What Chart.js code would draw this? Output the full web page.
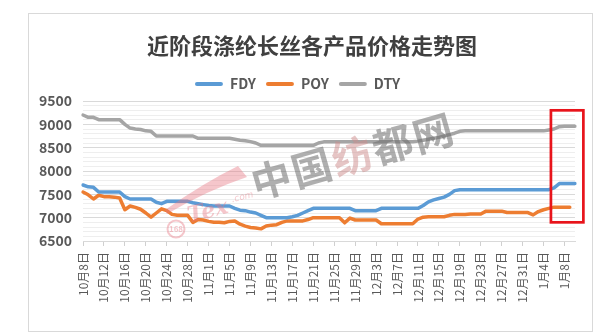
<!DOCTYPE html>
<html>
<head>
<meta charset="utf-8">
<script src="https://cdn.jsdelivr.net/npm/chart.js@4.4.0/dist/chart.umd.min.js"></script>
<style>
  html, body { margin: 0; padding: 0; background: #fff; }
  #wrap { position: relative; width: 612px; height: 332px; overflow: hidden; }
  .frame { position: absolute; left: 28px; top: 13px; width: 563px; height: 317px; border: 1px solid #d9d9d9; }
  .plot { position: absolute; left: 0; top: 0; width: 612px; height: 332px; }
</style>
</head>
<body>
<div id="wrap">
  <div class="frame"></div>
  <div class="plot"><canvas id="priceChart"></canvas></div>
</div>
<script>
// daily dates, 10/8 .. 1/10
const dates = [
  '10月8日','10月9日','10月10日','10月11日','10月12日','10月13日','10月14日','10月15日','10月16日','10月17日',
  '10月18日','10月19日','10月20日','10月21日','10月22日','10月23日','10月24日','10月25日','10月26日','10月27日',
  '10月28日','10月29日','10月30日','10月31日',
  '11月1日','11月2日','11月3日','11月4日','11月5日','11月6日','11月7日','11月8日','11月9日','11月10日',
  '11月11日','11月12日','11月13日','11月14日','11月15日','11月16日','11月17日','11月18日','11月19日','11月20日',
  '11月21日','11月22日','11月23日','11月24日','11月25日','11月26日','11月27日','11月28日','11月29日','11月30日',
  '12月1日','12月2日','12月3日','12月4日','12月5日','12月6日','12月7日','12月8日','12月9日','12月10日',
  '12月11日','12月12日','12月13日','12月14日','12月15日','12月16日','12月17日','12月18日','12月19日','12月20日',
  '12月21日','12月22日','12月23日','12月24日','12月25日','12月26日','12月27日','12月28日','12月29日','12月30日',
  '12月31日',
  '1月1日','1月2日','1月3日','1月4日','1月5日','1月6日','1月7日','1月8日','1月9日','1月10日'
];

const fdyPrices = [
  7700, 7660, 7650, 7550, 7550, 7550, 7550, 7550, 7450, 7400,
  7400, 7400, 7400, 7400, 7330, 7300, 7350, 7350, 7350, 7350,
  7350, 7320, 7300, 7280, 7260, 7250, 7250, 7250, 7250, 7200,
  7160, 7150, 7120, 7100, 7050, 7000, 7000, 7000, 7000, 7000,
  7020, 7050, 7100, 7150, 7200, 7200, 7200, 7200, 7200, 7200,
  7200, 7200, 7150, 7150, 7150, 7150, 7150, 7200, 7200, 7200,
  7200, 7200, 7200, 7200, 7200, 7260, 7340, 7380, 7410, 7440,
  7500, 7580, 7600, 7600, 7600, 7600, 7600, 7600, 7600, 7600,
  7600, 7600, 7600, 7600, 7600, 7600, 7600, 7600, 7600, 7600,
  7640, 7730, 7730, 7730, 7730
];

const poyPrices = [
  7550, 7490, 7400, 7480, 7450, 7450, 7440, 7420, 7170, 7250,
  7220, 7180, 7100, 7010, 7100, 7190, 7150, 7070, 7050, 7050,
  7050, 6900, 6960, 6950, 6920, 6900, 6900, 6890, 6920, 6930,
  6860, 6820, 6790, 6780, 6760, 6820, 6840, 6850, 6900, 6930,
  6930, 6930, 6930, 6960, 7000, 7000, 7000, 7000, 7000, 7000,
  6890, 6990, 6950, 6950, 6950, 6950, 6950, 6870, 6870, 6870,
  6870, 6870, 6870, 6870, 6970, 7010, 7020, 7020, 7020, 7020,
  7050, 7070, 7070, 7070, 7080, 7080, 7080, 7140, 7140, 7140,
  7140, 7110, 7110, 7110, 7110, 7110, 7060, 7130, 7170, 7200,
  7225, 7225, 7225, 7225, null
];

const dtyPrices = [
  9200, 9150, 9150, 9100, 9100, 9100, 9100, 9100, 9000, 8920,
  8900, 8890, 8860, 8850, 8750, 8750, 8750, 8750, 8750, 8750,
  8750, 8750, 8700, 8700, 8700, 8700, 8700, 8700, 8700, 8680,
  8660, 8650, 8630, 8600, 8550, 8550, 8550, 8550, 8550, 8550,
  8550, 8550, 8550, 8550, 8550, 8600, 8625, 8625, 8625, 8625,
  8625, 8625, 8625, 8625, 8625, 8625, 8625, 8625, 8625, 8625,
  8625, 8625, 8625, 8625, 8640, 8660, 8680, 8700, 8720, 8750,
  8780, 8810, 8850, 8860, 8860, 8860, 8860, 8860, 8860, 8860,
  8860, 8860, 8860, 8860, 8860, 8860, 8860, 8860, 8860, 8880,
  8900, 8950, 8960, 8960, 8960
];

const chartTitle = '近阶段涤纶长丝各产品价格走势图';
const yMin = 6500;
const yMax = 9500;
const labelEvery = 4;

// red box around the latest moves (x in day index, y in price)
const boxFrom = 89.4;
const boxTo = 95.6;
const boxTop = 9300;
const boxBottom = 6900;

const FONT = "'Noto Sans CJK SC', 'Liberation Sans', sans-serif";

// title sits centred on the frame, not on the legend/plot block
const titleText = {
  id: 'titleText',
  afterDraw(chart) {
    const ctx = chart.ctx;
    ctx.save();
    ctx.font = "bold 22px " + FONT;
    ctx.fillStyle = '#404040';
    ctx.textAlign = 'center';
    ctx.textBaseline = 'middle';
    ctx.fillText(chartTitle, 312, 46);
    ctx.restore();
  }
};

const watermark = {
  id: 'watermark',
  afterDatasetsDraw(chart) {
    const ctx = chart.ctx;
    ctx.save();
    // site name
    ctx.translate(352, 156);
    ctx.rotate(-16 * Math.PI / 180);
    ctx.font = "bold 40px " + FONT;
    ctx.textAlign = 'center';
    ctx.textBaseline = 'middle';
    const chars = ['中', '国', '纺', '都', '网'];
    chars.forEach((ch, i) => {
      ctx.fillStyle = ch === '纺' ? 'rgba(205,140,140,0.5)' : 'rgba(110,110,110,0.55)';
      ctx.fillText(ch, (i - 2) * 42, 0);
    });
    ctx.restore();

    // logo swoosh
    ctx.save();
    ctx.fillStyle = 'rgba(232,120,130,0.42)';
    ctx.strokeStyle = 'rgba(232,120,130,0.42)';
    ctx.beginPath();
    ctx.moveTo(165, 210);
    ctx.quadraticCurveTo(205, 182, 238, 166);
    ctx.lineTo(247, 177);
    ctx.quadraticCurveTo(208, 190, 167, 214);
    ctx.closePath();
    ctx.fill();
    ctx.lineWidth = 2;
    ctx.beginPath();
    ctx.arc(176, 229, 8.5, 0, Math.PI * 2);
    ctx.stroke();
    ctx.font = "bold 8px " + FONT;
    ctx.textAlign = 'center';
    ctx.textBaseline = 'middle';
    ctx.fillText('168', 176, 229);
    ctx.translate(208, 212);
    ctx.rotate(-14 * Math.PI / 180);
    ctx.font = "italic bold 22px 'DejaVu Serif', serif";
    ctx.fillText('Tex', 0, 0);
    ctx.font = "italic 9px 'DejaVu Sans', sans-serif";
    ctx.textAlign = 'left';
    ctx.fillText('.com', 26, -6);
    ctx.restore();
  }
};

const highlightBox = {
  id: 'highlightBox',
  afterDraw(chart) {
    const { ctx, scales } = chart;
    const left = scales.x.getPixelForValue(boxFrom);
    const right = scales.x.getPixelForValue(boxTo);
    const top = scales.y.getPixelForValue(boxTop);
    const bottom = scales.y.getPixelForValue(boxBottom);
    ctx.save();
    ctx.strokeStyle = '#e8141b';
    ctx.lineWidth = 2.7;
    ctx.strokeRect(left, top, right - left, bottom - top);
    ctx.restore();
  }
};

function line(label, data, color) {
  return {
    label: label,
    data: data,
    borderColor: color,
    backgroundColor: color,
    borderWidth: 3.5,
    pointRadius: 0,
    tension: 0,
    borderJoinStyle: 'round',
    borderCapStyle: 'round',
    spanGaps: false
  };
}

new Chart(document.getElementById('priceChart'), {
  type: 'line',
  data: {
    labels: dates,
    datasets: [
      line('FDY', fdyPrices, '#5b9bd5'),
      line('POY', poyPrices, '#ed7d31'),
      line('DTY', dtyPrices, '#a5a5a5')
    ]
  },
  options: {
    responsive: true,
    maintainAspectRatio: false,
    animation: false,
    layout: { padding: { left: 20, right: 37, top: 67, bottom: 0 } },
    plugins: {
      title: { display: false },
      legend: {
        position: 'top',
        labels: {
          boxWidth: 28,
          boxHeight: 4,
          padding: 10,
          color: '#595959',
          useBorderRadius: true,
          borderRadius: 2,
          font: { family: FONT, size: 14, weight: 'bold' },
          generateLabels(chart) {
            return Chart.defaults.plugins.legend.labels.generateLabels(chart)
              .map(item => Object.assign(item, { lineWidth: 0 }));
          }
        }
      },
      tooltip: { enabled: false }
    },
    scales: {
      x: {
        afterFit(scale) { scale.height = 91; },
        border: { color: '#d9d9d9' },
        grid: {
          drawOnChartArea: false,
          drawTicks: true,
          tickLength: 5,
          tickColor: ctx => (ctx.index % labelEvery === 0 ? '#d0d0d0' : 'rgba(0,0,0,0)')
        },
        ticks: {
          autoSkip: false,
          maxRotation: 90,
          minRotation: 90,
          padding: 6,
          color: '#595959',
          font: { family: FONT, size: 12 },
          callback: (value, index) => (index % labelEvery === 0 ? dates[index] : '')
        }
      },
      y: {
        min: yMin,
        max: yMax,
        afterFit(scale) { scale.width = 63; },
        border: { display: false },
        grid: {
          drawTicks: false,
          color: ctx => (ctx.tick && ctx.tick.value % 500 === 0 ? '#d9d9d9' : '#eeeeee')
        },
        ticks: {
          stepSize: 100,
          autoSkip: false,
          padding: 11,
          color: '#595959',
          font: { family: FONT, size: 14, weight: 'bold' },
          callback: value => (value % 500 === 0 ? value : '')
        }
      }
    }
  },
  plugins: [titleText, watermark, highlightBox]
});
</script>
</body>
</html>
